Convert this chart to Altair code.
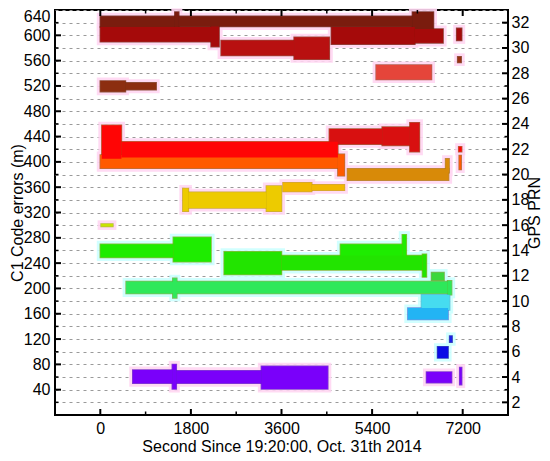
import altair as alt
import pandas as pd

# ---------------- axis tick values ----------------
x_major = [0, 1800, 3600, 5400, 7200]
x_minor = [900, 2700, 4500, 6300]
y_left_major = list(range(40, 640, 40))     # labelled, C1 code errors (m)
y_left_minor = list(range(20, 640, 40))
y_grid = list(range(20, 641, 20))
prn_ticks = list(range(2, 33, 2))            # right axis GPS PRN labels

# ---------------- satellites and colours ----------------
prn_list = [32, 31, 30, 29, 28, 27, 23, 22, 21, 20, 19, 18, 16, 14, 13, 12, 11, 10, 9, 7, 6, 4]
prn_colors = ["#7A1C0E", "#A50A0A", "#B81010", "#9A3010", "#E5453A", "#8C2E10",
              "#D81010", "#FF0505", "#FF5A00", "#D88A08", "#F2B800", "#EDCB00",
              "#C8E400", "#1EEC00", "#22E400", "#3CD83C", "#2EE85A", "#46DCF0",
              "#22B4F4", "#1A20E8", "#0A0AE6", "#7A00FA"]
fringe_colors = ["#5A1408", "#6A1A08", "#7A2008", "#6A2A08", "#9A3A20", "#6A2A08",
                 "#8A3A08", "#9A4A08", "#9A5008", "#A06A08", "#C09000", "#B89A00",
                 "#A0B000", "#7AA000", "#7AA000", "#6A9A20", "#6AA020", "#40A8C8",
                 "#5070D8", "#1010A0", "#0A0AA0", "#5A10C0"]
halo_colors = ["#FFD6F2"] * 13 + ["#CCFFFF"] * 8 + ["#FFD6F2"]

# ---------------- error bands (time span, error range, PRN) ----------------
seg_prn = [32, 32, 32, 32,
           31, 31, 31, 31, 31,
           30, 30, 29, 28, 27, 27,
           23, 23, 23,
           21, 21, 21,
           22, 22, 22,
           20, 20,
           19, 19,
           18, 18, 18,
           16,
           14, 14, 14, 14,
           13, 13, 13,
           12,
           11, 11, 11,
           10, 9, 7, 6,
           4, 4, 4, 4, 4, 4]
seg_start = [0, 1480, 1560, 6200,
             0, 2200, 4590, 6250, 7080,
             2400, 3850, 7100, 5480, 0, 500,
             4550, 5600, 6150,
             0, 4720, 7130,
             30, 420, 7120,
             4910, 6860,
             3630, 4200,
             1640, 1750, 3300,
             16,
             0, 1450, 4770, 6000,
             2460, 3600, 6400,
             6580,
             513, 1440, 6900,
             6380, 6110, 6940, 6700,
             645, 1430, 1510, 3200, 6480, 7140]
seg_end = [1480, 1560, 6200, 6620,
           2200, 2360, 6250, 6810, 7180,
           3850, 4550, 7170, 6580, 500, 1110,
           5600, 6150, 6340,
           4720, 4850, 7170,
           420, 4720, 7180,
           6920, 6930,
           4200, 4850,
           1750, 3300, 3600,
           250,
           1450, 2200, 6000, 6080,
           3600, 6400, 6480,
           6830,
           6900, 1520, 6980,
           6940, 6910, 6990, 6910,
           1430, 1510, 3200, 4520, 6980, 7180]
seg_low = [613, 605, 614, 598,
           590, 582, 586, 588, 592,
           568, 562, 557, 530, 511, 514,
           428, 426, 416,
           390, 378, 388,
           405, 407, 416,
           371, 383,
           353, 355,
           322, 327, 322,
           298,
           249, 242, 251, 251,
           222, 229, 218,
           213,
           192, 185, 190,
           166, 151, 115, 90,
           50, 41, 50, 41, 51, 48]
seg_high = [630, 637, 630, 637,
            613, 614, 613, 610, 611,
            592, 597, 566, 553, 528, 525,
            452, 455, 462,
            411, 412, 410,
            458, 432, 424,
            389, 405,
            367, 364,
            358, 352, 362,
            302,
            270, 281, 270, 285,
            258, 252, 254,
            225,
            211, 216, 212,
            190, 169, 125, 108,
            71, 80, 70, 77, 68, 75]

W, H = 453, 405
FONT = "Liberation Sans"

segs = pd.DataFrame({"prn": seg_prn, "start": seg_start, "end": seg_end,
                     "low": seg_low, "high": seg_high})

xscale = alt.Scale(domain=[-900, 8100], nice=False, zero=False)
yscale = alt.Scale(domain=[0, 640], nice=False, zero=False)
xaxis = alt.Axis(values=x_major, format="d", tickSize=0, domain=False, grid=False,
                 labelPadding=5, labelFontSize=16, labelFont=FONT, labelColor="black",
                 title="Second Since 19:20:00, Oct. 31th 2014", titleFontSize=16,
                 titleFont=FONT, titleFontWeight="normal", titleColor="black",
                 titleBaseline="alphabetic", titleX=W / 2, titleY=36)
yaxis = alt.Axis(values=y_grid, tickSize=0, domain=False, grid=True,
                 gridDash=[3, 4], gridColor="#9A9A9A", gridWidth=1,
                 labelExpr="datum.value % 40 === 0 ? datum.label : ''",
                 labelOffset={"condition": {"test": "datum.value == 640", "value": 6}, "value": 0},
                 labelPadding=5, labelFontSize=16, labelFont=FONT, labelColor="black",
                 title="C1 Code errors (m)", titleFontSize=16, titleFont=FONT,
                 titleFontWeight="normal", titleColor="black",
                 titleAngle=270, titleBaseline="middle", titleX=-38, titleY=H / 2)


def X(field):
    return alt.X(field, type="quantitative", scale=xscale, axis=xaxis)


def Y(field):
    return alt.Y(field, type="quantitative", scale=yscale, axis=yaxis)


halo = alt.Chart(segs).mark_rect(fillOpacity=0, strokeWidth=7, strokeOpacity=0.9).encode(
    x=X("start"), x2="end", y=Y("low"), y2="high",
    stroke=alt.Stroke("prn:N", scale=alt.Scale(domain=prn_list, range=halo_colors), legend=None),
)
body = alt.Chart(segs).mark_rect().encode(
    x=X("start"), x2="end", y=Y("low"), y2="high",
    fill=alt.Fill("prn:N", scale=alt.Scale(domain=prn_list, range=prn_colors), legend=None),
)
fringe = alt.Chart(segs).mark_rect(filled=False, strokeWidth=1.5, opacity=0.75).encode(
    x=X("start"), x2="end", y=Y("low"), y2="high",
    color=alt.Color("prn:N", scale=alt.Scale(domain=prn_list, range=fringe_colors), legend=None),
)

dx_major = pd.DataFrame({"start": x_major})
dx_minor = pd.DataFrame({"start": x_minor})
dy_left_major = pd.DataFrame({"low": y_left_major})
dy_left_minor = pd.DataFrame({"low": y_left_minor})

tick_layers = []
for df, ln, sw in [(dx_major, 6, 2), (dx_minor, 3.5, 1.5)]:
    tick_layers.append(alt.Chart(df).mark_rule(color="black", strokeWidth=sw).encode(
        x=X("start"), y=alt.value(H), y2=alt.value(H - ln)))
    tick_layers.append(alt.Chart(df).mark_rule(color="black", strokeWidth=sw).encode(
        x=X("start"), y=alt.value(0), y2=alt.value(ln)))
# left: major at multiples of 40, minor between; right: the opposite (PRN even = 20, 60, ...)
for df, ln_left, ln_right, sw_l, sw_r in [(dy_left_major, 6, 3.5, 2, 1.5),
                                          (dy_left_minor, 3.5, 6, 1.5, 2)]:
    tick_layers.append(alt.Chart(df).mark_rule(color="black", strokeWidth=sw_l).encode(
        y=Y("low"), x=alt.value(0), x2=alt.value(ln_left)))
    tick_layers.append(alt.Chart(df).mark_rule(color="black", strokeWidth=sw_r).encode(
        y=Y("low"), x=alt.value(W), x2=alt.value(W - ln_right)))

inner = alt.layer(halo, fringe, body, *tick_layers)

right_axis = alt.Chart(pd.DataFrame({"prn": prn_ticks})).mark_point(opacity=0).encode(
    y=alt.Y("prn:Q", scale=alt.Scale(domain=[1, 33], nice=False, zero=False),
            axis=alt.Axis(orient="right", values=prn_ticks, tickSize=0, domain=False,
                          grid=False, labelPadding=3, labelFontSize=16, labelFont=FONT,
                          labelColor="black", title="GPS PRN", titleAngle=270,
                          titleFontSize=16, titleFont=FONT, titleFontWeight="normal",
                          titleColor="black", titleBaseline="middle",
                          titleX=26, titleY=H / 2))
)

chart = alt.layer(inner, right_axis).resolve_scale(y="independent").properties(
    width=W, height=H,
    autosize=alt.AutoSizeParams(type="none"),
    padding={"left": 47, "top": 2, "right": 34, "bottom": 38},
).configure_view(stroke="black", strokeWidth=2)

chart.save("out.html", embed_options={"renderer": "svg", "actions": False})
